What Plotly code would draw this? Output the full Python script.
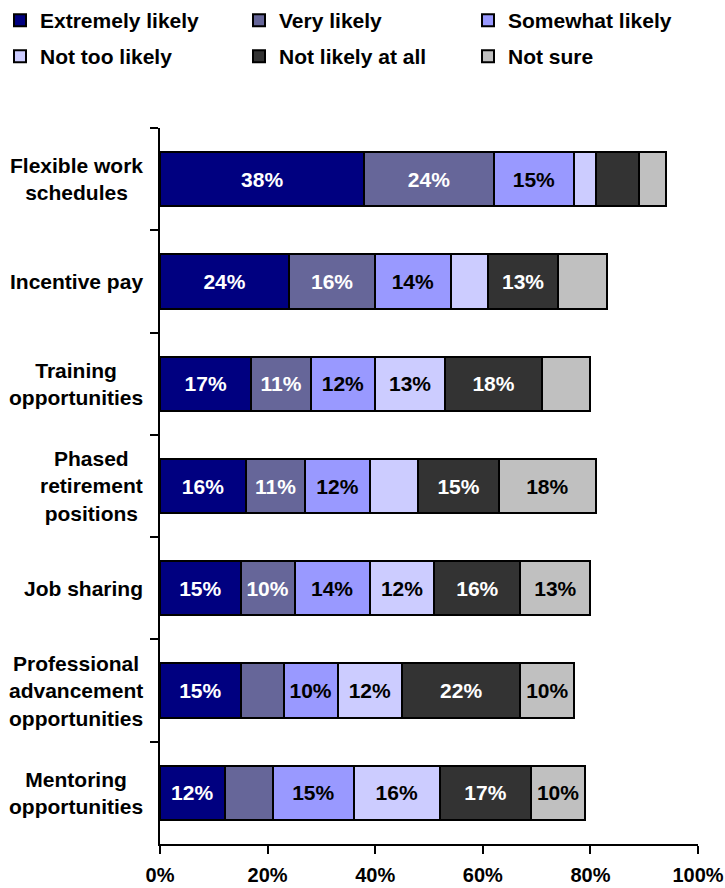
import plotly.graph_objects as go

# Survey categories (top to bottom)
categories = [
    "Flexible work schedules",
    "Incentive pay",
    "Training opportunities",
    "Phased retirement positions",
    "Job sharing",
    "Professional advancement opportunities",
    "Mentoring opportunities",
]
# Multi-line labels for the category axis
category_labels = [
    "Flexible work<br>schedules",
    "Incentive pay",
    "Training<br>opportunities",
    "Phased<br>retirement<br>positions",
    "Job sharing",
    "Professional<br>advancement<br>opportunities",
    "Mentoring<br>opportunities",
]

# Response shares (%) per category
extremely_likely = [38, 24, 17, 16, 15, 15, 12]
very_likely = [24, 16, 11, 11, 10, 8, 9]
somewhat_likely = [15, 14, 12, 12, 14, 10, 15]
not_too_likely = [4, 7, 13, 9, 12, 12, 16]
not_likely_at_all = [8, 13, 18, 15, 16, 22, 17]
not_sure = [5, 9, 9, 18, 13, 10, 10]

x_tick_values = [0, 20, 40, 60, 80, 100]
x_tick_labels = ["0%", "20%", "40%", "60%", "80%", "100%"]

series = [
    ("Extremely likely", extremely_likely, "#000080", "white"),
    ("Very likely", very_likely, "#666699", "white"),
    ("Somewhat likely", somewhat_likely, "#9999FF", "black"),
    ("Not too likely", not_too_likely, "#CCCCFF", "black"),
    ("Not likely at all", not_likely_at_all, "#333333", "white"),
    ("Not sure", not_sure, "#C0C0C0", "black"),
]

FONT = "Arial, 'Liberation Sans', sans-serif"
W, H = 725, 888

# Legend slots (pixels from top-left): 3 columns x 2 rows, one legend box per series
legend_px_x = [-5, 239, 468]
legend_px_y = [0, 36]

fig = go.Figure()
legend_layout = {}
for i, (name, vals, color, txtcolor) in enumerate(series):
    legend_id = "legend" if i == 0 else f"legend{i + 1}"
    fig.add_trace(go.Bar(
        y=categories,
        x=vals,
        name=name,
        orientation="h",
        marker=dict(color=color, line=dict(color="black", width=2)),
        text=[f"{v}%" if v >= 10 else "" for v in vals],
        textposition="inside",
        insidetextanchor="middle",
        constraintext="none",
        textfont=dict(color=txtcolor, size=21, family=FONT, weight="bold"),
        legend=legend_id,
        hoverinfo="skip",
    ))
    legend_layout[legend_id] = dict(
        x=legend_px_x[i % 3] / W,
        y=1 - legend_px_y[i // 3] / H,
        xref="container",
        yref="container",
        xanchor="left",
        yanchor="top",
        orientation="h",
        font=dict(size=21, family=FONT, weight="bold", color="black"),
        bgcolor="rgba(0,0,0,0)",
        itemwidth=30,
    )

# Category labels, centred per block and right-aligned against the axis
for cat, lab in zip(categories, category_labels):
    fig.add_annotation(
        x=0, xref="paper", y=cat, yref="y",
        text=lab, showarrow=False,
        xanchor="right", yanchor="middle", align="center",
        xshift=-15,
        font=dict(size=21, family=FONT, weight="bold", color="black"),
    )

fig.update_layout(
    width=W,
    height=H,
    barmode="stack",
    bargap=0.47,
    plot_bgcolor="white",
    paper_bgcolor="white",
    margin=dict(l=160, r=27, t=128, b=44, autoexpand=False),
    font=dict(family=FONT, color="black"),
    showlegend=True,
    **legend_layout,
)

fig.update_xaxes(
    range=[0, 100],
    tickvals=x_tick_values,
    ticktext=x_tick_labels,
    showline=True,
    linecolor="black",
    linewidth=2,
    ticks="outside",
    ticklen=8,
    tickwidth=2,
    tickcolor="black",
    ticklabelstandoff=4,
    showgrid=False,
    zeroline=False,
    tickfont=dict(size=20, family=FONT, weight="bold", color="black"),
)

fig.update_yaxes(
    categoryorder="array",
    categoryarray=categories,
    autorange="reversed",
    showline=True,
    linecolor="black",
    linewidth=2,
    ticks="outside",
    tickson="boundaries",
    ticklen=8,
    tickwidth=2,
    tickcolor="black",
    showticklabels=False,
    showgrid=False,
    zeroline=False,
)

fig.write_html("out.html")
